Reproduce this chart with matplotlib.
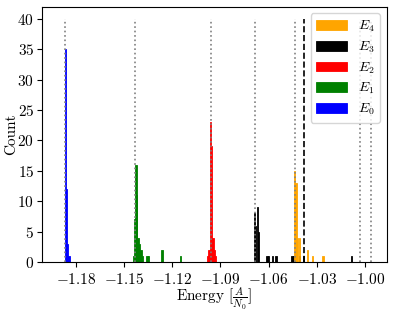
import numpy as np
import matplotlib.pyplot as plt

plt.rcParams['font.family'] = 'serif'
plt.rcParams['font.serif'] = ['cmr10', 'DejaVu Serif']
plt.rcParams['mathtext.fontset'] = 'cm'
plt.rcParams['axes.formatter.use_mathtext'] = True
plt.rcParams['font.size'] = 11

# histogram bins (centres) and counts per level
e0_x = [-1.1865, -1.1857, -1.1850, -1.1842]
e0_n = [35, 12, 3, 1]

e1_x = [-1.1440, -1.1432, -1.1426, -1.1420, -1.1412, -1.1403, -1.1394, -1.1387,
        -1.1357, -1.1349, -1.1263, -1.1150]
e1_n = [1, 7, 16, 11, 4, 3, 2, 1, 1, 1, 2, 1]

e2_x = [-1.0977, -1.0971, -1.0962, -1.0954, -1.0946, -1.0939, -1.0932]
e2_n = [1, 2, 23, 19, 4, 2, 1]

e3_x = [-1.0689, -1.0680, -1.0670, -1.0662, -1.0611, -1.0599, -1.0577, -1.0555,
        -1.0455, -1.0447, -1.0433, -1.0406, -1.0382, -1.0084]
e3_n = [8, 6, 9, 5, 1, 1, 1, 1, 1, 1, 2, 1, 1, 1]

e4_x = [-1.0438, -1.0430, -1.0419, -1.0406, -1.0360, -1.0325, -1.0261]
e4_n = [15, 13, 4, 4, 2, 1, 1]

exact_levels = [-1.1868, -1.1434, -1.0958, -1.0683, -1.0434, -1.0031, -0.9963]
reference_level = -1.0377

series = [(e0_x, e0_n, 'blue', '$E_0$'),
          (e1_x, e1_n, 'green', '$E_1$'),
          (e2_x, e2_n, 'red', '$E_2$'),
          (e3_x, e3_n, 'black', '$E_3$'),
          (e4_x, e4_n, 'orange', '$E_4$')]

bin_w = 0.0008

fig = plt.figure(figsize=(3.95, 3.12), dpi=100)
ax = fig.add_axes([0.106, 0.16, 0.874, 0.819])

for xs, ns, c, lab in series:
    ax.bar(xs, ns, width=bin_w, color=c, edgecolor=c, label=lab, linewidth=0.6)

ax.vlines(exact_levels, 0, 40, colors='gray', linestyles=':', linewidth=1.2)
ax.vlines(reference_level, 0, 40, colors='black', linestyles='--', linewidth=1.2)

ax.set_xlim(-1.2011, -0.9863)
ax.set_ylim(0, 42)
ax.set_xticks([-1.18, -1.15, -1.12, -1.09, -1.06, -1.03, -1.00])
ax.set_yticks(np.arange(0, 41, 5))
ax.tick_params(axis='y', pad=2)
ax.set_xlabel(r'Energy [$\frac{A}{N_0}$]', labelpad=-1)
ax.set_ylabel('Count')
ax.yaxis.set_label_coords(-0.068, 0.5)

h, l = ax.get_legend_handles_labels()
ax.legend(h[::-1], l[::-1], loc='upper right', fontsize=10,
          handlelength=2.2, labelspacing=0.38)

fig.savefig('out.png', dpi=100)
